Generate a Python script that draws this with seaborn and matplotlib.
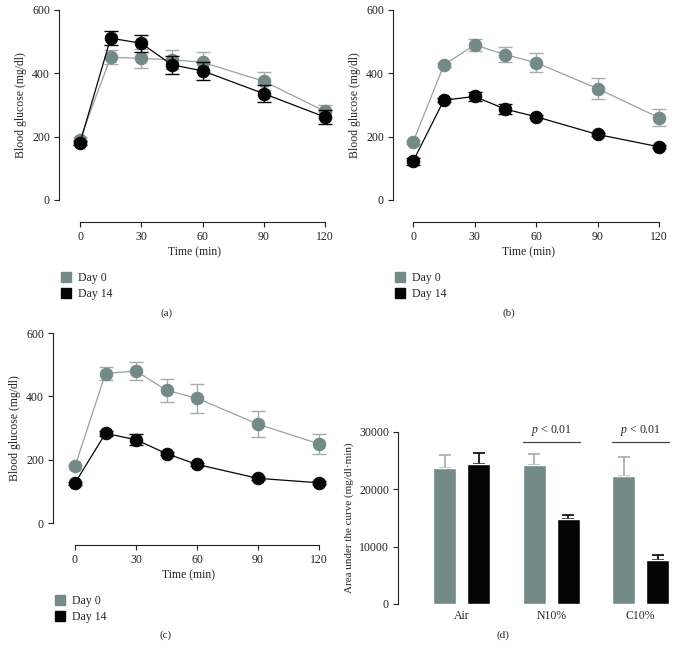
import numpy as np
import pandas as pd
import matplotlib
matplotlib.use('Agg')
import matplotlib.pyplot as plt
from matplotlib.lines import Line2D
import seaborn as sns

# dados
tempo = [0, 15, 30, 45, 60, 90, 120]

a_dia0 = [191, 451, 447, 443, 435, 375, 280]
a_dia0_ep = [8, 23, 30, 30, 32, 29, 20]
a_dia14 = [180, 511, 495, 427, 408, 336, 262]
a_dia14_ep = [5, 23, 27, 28, 28, 28, 21]

b_dia0 = [183, 426, 490, 459, 434, 352, 260]
b_dia0_ep = [5, 6, 18, 23, 30, 32, 27]
b_dia14 = [122, 315, 327, 287, 263, 207, 168]
b_dia14_ep = [10, 6, 14, 17, 5, 5, 5]

c_dia0 = [179, 472, 480, 419, 394, 312, 250]
c_dia0_ep = [5, 21, 27, 37, 46, 41, 31]
c_dia14 = [126, 283, 263, 219, 185, 141, 127]
c_dia14_ep = [5, 8, 18, 5, 5, 5, 5]

grupos = ['Air', 'N10%', 'C10%']
auc_dia0 = [23800, 24200, 22400]
auc_dia0_ep = [2200, 1900, 3300]
auc_dia14 = [24500, 14800, 7700]
auc_dia14_ep = [1900, 800, 900]

cinza = '#748a89'
cinza_linha = '#96a2a2'
cinza_erro = '#a8acac'
preto = '#050505'
fonte = 'Liberation Serif'

sns.set_theme(style='ticks')
plt.rcParams['font.family'] = [fonte, 'DejaVu Serif']
plt.rcParams['mathtext.fontset'] = 'custom'
plt.rcParams['mathtext.it'] = fonte + ':italic'
plt.rcParams['mathtext.rm'] = fonte
plt.rcParams['axes.linewidth'] = 0.8

fig = plt.figure(figsize=(6.76, 6.58), dpi=100)
W, H = 676, 658


def eixo(esq, topo, larg, alt):
    return fig.add_axes([esq / W, 1 - (topo + alt) / H, larg / W, alt / H])


def painel_linha(ax, dia0, ep0, dia14, ep14, x0px, escala, letra, cap_xy):
    df = pd.DataFrame({
        'tempo': tempo * 2,
        'glicose': dia0 + dia14,
        'grupo': ['Day 0'] * 7 + ['Day 14'] * 7,
    })
    ax.errorbar(tempo, dia0, yerr=ep0, fmt='none', ecolor=cinza_erro,
                elinewidth=1, capsize=5, capthick=1, zorder=2, clip_on=False)
    ax.errorbar(tempo, dia14, yerr=ep14, fmt='none', ecolor=preto,
                elinewidth=1, capsize=5, capthick=1, zorder=4, clip_on=False)
    sns.lineplot(data=df[df.grupo == 'Day 0'], x='tempo', y='glicose', ax=ax,
                 color=cinza_linha, lw=0.9, marker='o', markersize=9,
                 markerfacecolor=cinza, markeredgecolor=cinza, zorder=3,
                 clip_on=False)
    sns.lineplot(data=df[df.grupo == 'Day 14'], x='tempo', y='glicose', ax=ax,
                 color=preto, lw=0.9, marker='o', markersize=9,
                 markerfacecolor=preto, markeredgecolor=preto, zorder=5,
                 clip_on=False)
    ax.set_xlim(-x0px / escala, 120 + 6 / escala)
    ax.set_ylim(0, 600)
    ax.set_xticks([0, 30, 60, 90, 120])
    ax.set_yticks([0, 200, 400, 600])
    sns.despine(ax=ax)
    ax.spines['bottom'].set_position(('outward', 16))
    ax.spines['bottom'].set_bounds(0, 120)
    ax.spines['left'].set_bounds(0, 600)
    for s in ['left', 'bottom']:
        ax.spines[s].set_color('#222222')
        ax.spines[s].set_linewidth(0.8)
    ax.tick_params(labelsize=8.5, length=3.5, width=0.8, pad=3, colors='#222222')
    ax.set_xlabel('Time (min)', fontsize=8.5, labelpad=2)
    ax.set_ylabel('Blood glucose (mg/dl)', fontsize=8.5, labelpad=4)
    alcas = [Line2D([], [], ls='none', marker='s', markersize=6.5, color=cinza),
             Line2D([], [], ls='none', marker='s', markersize=6.5, color=preto)]
    ax.legend(alcas, ['Day 0', 'Day 14'], loc='upper left',
              bbox_to_anchor=(0.01, -0.38), frameon=False, fontsize=8.5,
              handlelength=0.8, handletextpad=0.6, labelspacing=0.3,
              borderpad=0, borderaxespad=0)
    ax.text(cap_xy[0] / W, 1 - cap_xy[1] / H, letra, transform=fig.transFigure,
            ha='center', va='center', fontsize=8)


ax_a = eixo(59, 10, 272, 190)
painel_linha(ax_a, a_dia0, a_dia0_ep, a_dia14, a_dia14_ep, 21, 245 / 120,
             '(a)', (167, 313))
ax_b = eixo(393, 10, 272, 190)
painel_linha(ax_b, b_dia0, b_dia0_ep, b_dia14, b_dia14_ep, 20, 245 / 120,
             '(b)', (509, 313))
ax_c = eixo(53, 333, 272, 190)
painel_linha(ax_c, c_dia0, c_dia0_ep, c_dia14, c_dia14_ep, 22, 244 / 120,
             '(c)', (166, 635))

# painel d: area sob a curva
ax_d = eixo(398, 432, 274, 172)
df_auc = pd.DataFrame({
    'grupo': grupos * 2,
    'auc': auc_dia0 + auc_dia14,
    'dia': ['Day 0'] * 3 + ['Day 14'] * 3,
})
sns.barplot(data=df_auc, x='grupo', y='auc', hue='dia', order=grupos,
            hue_order=['Day 0', 'Day 14'], palette=[cinza, preto],
            width=0.76, gap=0.32, errorbar=None, legend=False,
            saturation=1, ax=ax_d, zorder=2)
barras = ax_d.patches
n = len(grupos)
for i in range(n):
    b0, b1 = barras[i], barras[i + n]
    x0 = b0.get_x() + b0.get_width() / 2
    x1 = b1.get_x() + b1.get_width() / 2
    ax_d.errorbar([x0], [auc_dia0[i]], yerr=[[0], [auc_dia0_ep[i]]], fmt='none',
                  ecolor=cinza_erro, elinewidth=1.2, capsize=4.5, capthick=1.2,
                  zorder=1)
    ax_d.errorbar([x1], [auc_dia14[i]], yerr=[[0], [auc_dia14_ep[i]]], fmt='none',
                  ecolor=preto, elinewidth=1.2, capsize=4.5, capthick=1.2,
                  zorder=1)
    if grupos[i] != 'Air':
        xa, xb = b0.get_x(), b1.get_x() + b1.get_width()
        ax_d.plot([xa, xb], [28300, 28300], color='#444444', lw=0.9,
                  clip_on=False)
        ax_d.text((xa + xb) / 2, 30300, '$p$ < 0.01', ha='center', va='center',
                  fontsize=8.5)
ax_d.set_xlim(-0.715, 2.35)
ax_d.set_ylim(0, 30000)
ax_d.set_yticks([0, 10000, 20000, 30000])
sns.despine(ax=ax_d, bottom=True)
ax_d.spines['left'].set_color('#222222')
ax_d.tick_params(axis='y', labelsize=8.5, length=3.5, width=0.8, pad=3,
                 colors='#222222')
ax_d.tick_params(axis='x', labelsize=8.5, length=0, pad=4)
ax_d.set_xlabel('')
ax_d.set_ylabel('Area under the curve (mg/dl·min)', fontsize=8, labelpad=4)
ax_d.text(503 / W, 1 - 635 / H, '(d)', transform=fig.transFigure,
          ha='center', va='center', fontsize=8)

fig.savefig('out.png', dpi=100)
